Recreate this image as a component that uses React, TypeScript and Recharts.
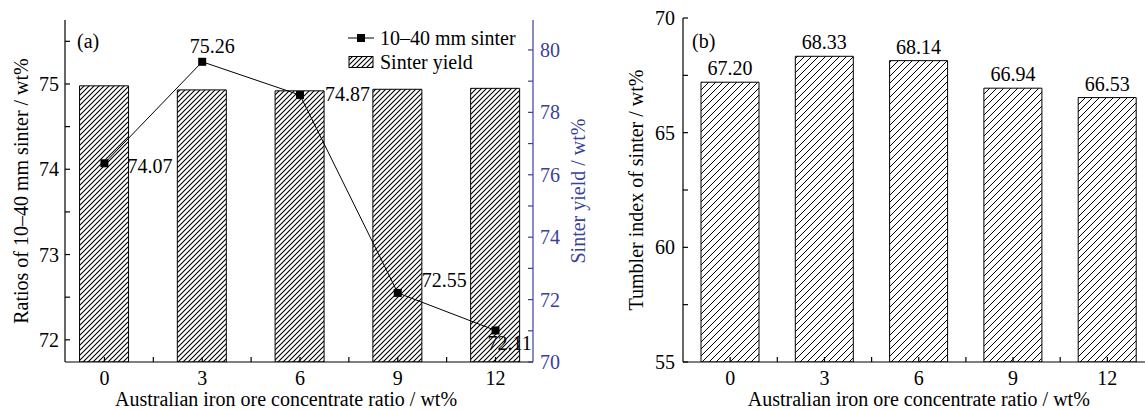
import React from 'react';
import {
  ComposedChart,
  Bar,
  Line,
  XAxis,
  YAxis,
  Legend,
  LabelList,
} from 'recharts';

const FONT = '"Liberation Serif", "Times New Roman", serif';
const BLUE = '#3b3f9a';

// Australian iron ore concentrate ratio, wt%
const ratios = [0, 3, 6, 9, 12];
// (a) ratio of 10–40 mm sinter, wt%
const sizeRatio = [74.07, 75.26, 74.87, 72.55, 72.11];
// (a) sinter yield, wt%
const sinterYield = [78.85, 78.72, 78.69, 78.74, 78.77];
// (b) tumbler index, wt%
const tumblerIndex = [67.2, 68.33, 68.14, 66.94, 66.53];

const xTicks = [0, 1.5, 3, 4.5, 6, 7.5, 9, 10.5, 12];
const leftTicks = [72, 72.5, 73, 73.5, 74, 74.5, 75, 75.5];
const yieldTicks = [70, 71, 72, 73, 74, 75, 76, 77, 78, 79, 80];
const tumblerTicks = [55, 57.5, 60, 62.5, 65, 67.5, 70];

const dataA = ratios.map((x, i) => ({ x, ratio: sizeRatio[i], yield: sinterYield[i] }));
const dataB = ratios.map((x, i) => ({ x, ti: tumblerIndex[i] }));

// label placement around each point of the line: dx, dy, anchor
const lineLabelPos: [number, number, string][] = [
  [23, 10, 'start'],
  [10, -9, 'middle'],
  [25, 6, 'start'],
  [24, -6, 'start'],
  [-8, 20, 'start'],
];

const makeYTick =
  (side: 'left' | 'right', gap: number, color: string, isMajor: (v: number) => boolean) =>
  (props: any) => {
    const { x, y, payload } = props;
    const ax = side === 'left' ? x + gap : x - gap;
    const dir = side === 'left' ? 1 : -1;
    return (
      <g>
        <line x1={ax} x2={ax + dir * 5} y1={y} y2={y} stroke={color} strokeWidth={1.2} />
        {isMajor(payload.value) && (
          <text
            x={x}
            y={y + 7}
            textAnchor={side === 'left' ? 'end' : 'start'}
            fill={color}
            fontSize={20}
            fontFamily={FONT}
          >
            {payload.value}
          </text>
        )}
      </g>
    );
  };

const XTick = (props: any) => {
  const { x, y, payload } = props;
  const ay = y - 8;
  return (
    <g>
      <line x1={x} x2={x} y1={ay} y2={ay - 5} stroke="#000" strokeWidth={1.2} />
      {payload.value % 3 === 0 && (
        <text x={x} y={ay + 23} textAnchor="middle" fill="#000" fontSize={20} fontFamily={FONT}>
          {payload.value}
        </text>
      )}
    </g>
  );
};

const Square = (p: any) => (
  <rect key={`sq-${p.index}`} x={p.cx - 4} y={p.cy - 4} width={8} height={8} fill="#000" />
);

const LineLabel = (p: any) => {
  const [dx, dy, anchor] = lineLabelPos[p.index] ?? [0, -8, 'middle'];
  return (
    <text
      x={p.x + dx}
      y={p.y + dy}
      textAnchor={anchor as any}
      fill="#000"
      fontSize={20}
      fontFamily={FONT}
    >
      {Number(p.value).toFixed(2)}
    </text>
  );
};

const LegendA = () => (
  <div style={{ fontFamily: FONT, fontSize: 20, lineHeight: '24px', color: '#000' }}>
    <div style={{ display: 'flex', alignItems: 'center', whiteSpace: 'nowrap' }}>
      <svg width={26} height={12} style={{ marginRight: 6 }}>
        <line x1={0} x2={26} y1={6} y2={6} stroke="#000" strokeWidth={1} />
        <rect x={9} y={2} width={8} height={8} fill="#000" />
      </svg>
      <span>10–40 mm sinter</span>
    </div>
    <div style={{ display: 'flex', alignItems: 'center', whiteSpace: 'nowrap' }}>
      <svg width={26} height={12} style={{ marginRight: 6 }}>
        <defs>
          <pattern id="hatchLeg" patternUnits="userSpaceOnUse" width={5} height={5}>
            <path d="M-1,1 l2,-2 M0,5 l5,-5 M4,6 l2,-2" stroke="#000" strokeWidth={1.1} />
          </pattern>
        </defs>
        <rect x={1} y={0.5} width={24} height={11} fill="url(#hatchLeg)" stroke="#000" />
      </svg>
      <span>Sinter yield</span>
    </div>
  </div>
);

const axisLabelStyle = { fontSize: 20, fontFamily: FONT, fill: '#000' };

export default function App() {
  return (
    <div
      style={{
        position: 'fixed',
        left: 0,
        top: 0,
        width: 1145,
        height: 410,
        overflow: 'hidden',
        background: '#fff',
        fontFamily: FONT,
      }}
    >
      <div style={{ position: 'absolute', left: 0, top: 0 }}>
        <ComposedChart width={595} height={410} data={dataA} margin={{ top: 20, right: 0, bottom: 0, left: 0 }}>
          <defs>
            <pattern id="hatchA" patternUnits="userSpaceOnUse" width={5} height={5}>
              <path d="M-1,1 l2,-2 M0,5 l5,-5 M4,6 l2,-2" stroke="#000" strokeWidth={1.1} />
            </pattern>
          </defs>
          <XAxis
            dataKey="x"
            type="number"
            domain={[-1.21, 13.15]}
            ticks={xTicks}
            interval={0}
            height={48}
            tickSize={0}
            tickMargin={8}
            tickLine={false}
            axisLine={{ stroke: '#000', strokeWidth: 1.2 }}
            tick={XTick}
            label={{
              value: 'Australian iron ore concentrate ratio / wt%',
              position: 'insideBottom',
              offset: 4,
              dx: -13,
              style: axisLabelStyle,
            }}
          />
          <XAxis
            xAxisId="top"
            dataKey="x"
            type="number"
            orientation="top"
            domain={[-1.21, 13.15]}
            height={0}
            tick={false}
            tickLine={false}
            axisLine={{ stroke: '#000', strokeWidth: 1.2 }}
          />
          <YAxis
            yAxisId="left"
            domain={[71.74, 75.75]}
            ticks={leftTicks}
            interval={0}
            allowDataOverflow
            width={65}
            tickSize={0}
            tickMargin={6}
            tickLine={false}
            axisLine={{ stroke: '#000', strokeWidth: 1.2 }}
            tick={makeYTick('left', 6, '#000', (v) => Number.isInteger(v))}
            label={{
              value: 'Ratios of 10–40 mm sinter / wt%',
              angle: -90,
              position: 'insideLeft',
              offset: 21,
              style: { ...axisLabelStyle, textAnchor: 'middle' },
            }}
          />
          <YAxis
            yAxisId="right"
            orientation="right"
            domain={[70, 80.96]}
            ticks={yieldTicks}
            interval={0}
            allowDataOverflow
            width={62}
            tickSize={0}
            tickMargin={7}
            tickLine={false}
            axisLine={{ stroke: BLUE, strokeWidth: 1.2 }}
            tick={makeYTick('right', 7, BLUE, (v) => v % 2 === 0)}
            label={{
              value: 'Sinter yield / wt%',
              angle: -90,
              position: 'insideRight',
              offset: 17,
              style: { ...axisLabelStyle, fill: BLUE, textAnchor: 'middle' },
            }}
          />
          <Legend
            layout="vertical"
            align="center"
            verticalAlign="middle"
            content={<LegendA />}
            wrapperStyle={{ left: 348, top: 26, width: 'auto', height: 'auto' }}
          />
          <Bar
            yAxisId="right"
            dataKey="yield"
            name="Sinter yield"
            fill="url(#hatchA)"
            stroke="#000"
            strokeWidth={1}
            barSize={49}
            isAnimationActive={false}
          />
          <Line
            yAxisId="left"
            dataKey="ratio"
            name="10–40 mm sinter"
            stroke="#000"
            strokeWidth={1}
            dot={Square}
            activeDot={false}
            isAnimationActive={false}
          >
            <LabelList dataKey="ratio" content={LineLabel} />
          </Line>
        </ComposedChart>
      </div>

      <div style={{ position: 'absolute', left: 595, top: 0 }}>
        <ComposedChart width={570} height={410} data={dataB} margin={{ top: 18, right: 10.5, bottom: 0, left: 0 }}>
          <defs>
            <pattern id="hatchB" patternUnits="userSpaceOnUse" width={7} height={7}>
              <path d="M-1,1 l2,-2 M0,7 l7,-7 M6,8 l2,-2" stroke="#000" strokeWidth={1} />
            </pattern>
          </defs>
          <XAxis
            dataKey="x"
            type="number"
            domain={[-1.5, 13.5]}
            ticks={xTicks}
            interval={0}
            height={48}
            tickSize={0}
            tickMargin={8}
            tickLine={false}
            axisLine={{ stroke: '#000', strokeWidth: 1.2 }}
            tick={XTick}
            label={{
              value: 'Australian iron ore concentrate ratio / wt%',
              position: 'insideBottom',
              offset: 4,
              style: axisLabelStyle,
            }}
          />
          <XAxis
            xAxisId="top"
            dataKey="x"
            type="number"
            orientation="top"
            domain={[-1.5, 13.5]}
            height={0}
            tick={false}
            tickLine={false}
            axisLine={{ stroke: '#000', strokeWidth: 1.2 }}
          />
          <YAxis
            domain={[55, 70]}
            ticks={tumblerTicks}
            interval={0}
            allowDataOverflow
            width={88}
            tickSize={0}
            tickMargin={8}
            tickLine={false}
            axisLine={{ stroke: '#000', strokeWidth: 1.2 }}
            tick={makeYTick('left', 8, '#000', (v) => v % 5 === 0)}
            label={{
              value: 'Tumbler index of sinter / wt%',
              angle: -90,
              position: 'insideLeft',
              offset: 41,
              style: { ...axisLabelStyle, textAnchor: 'middle' },
            }}
          />
          <Bar
            dataKey="ti"
            fill="url(#hatchB)"
            stroke="#000"
            strokeWidth={1}
            barSize={58}
            isAnimationActive={false}
          >
            <LabelList
              dataKey="ti"
              position="top"
              offset={7}
              formatter={(v: any) => Number(v).toFixed(2)}
              style={{ fontSize: 20, fontFamily: FONT, fill: '#000' }}
            />
          </Bar>
        </ComposedChart>
      </div>

      <span style={{ position: 'absolute', left: 77, top: 29, fontSize: 20, lineHeight: '24px', color: '#000' }}>(a)</span>
      <span style={{ position: 'absolute', left: 692, top: 29, fontSize: 20, lineHeight: '24px', color: '#000' }}>(b)</span>
    </div>
  );
}
